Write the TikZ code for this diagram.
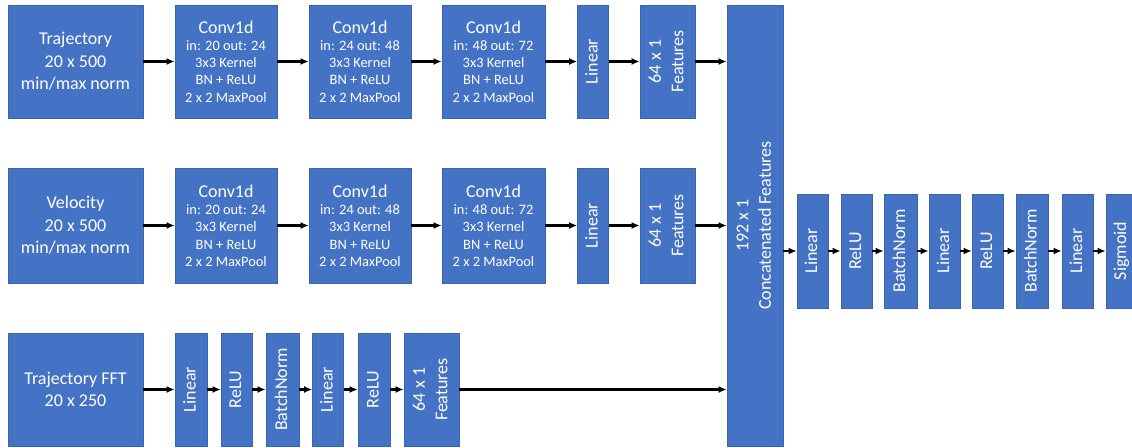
\documentclass[tikz,border=0pt]{standalone}
\usepackage{fontspec}
\usepackage{graphicx}
\setmainfont{Carlito}
\usetikzlibrary{arrows.meta}

\newcommand{\bigText}{\fontsize{18}{22.5}\selectfont}
\newcommand{\smallText}{\fontsize{14.4}{17.3}\selectfont}
\newcommand{\vText}[1]{\rotatebox{90}{\bigText\begin{tabular}{@{}c@{}}#1\end{tabular}}}

\begin{document}
\begin{tikzpicture}[x=1pt, y=-1pt,
    box/.style={draw=borderColour, fill=fillColour, line width=0.7pt, inner sep=0pt,
        text=white, align=center, minimum height=113pt},
    inbox/.style={box, minimum width=135pt, font=\bigText},
    convbox/.style={box, minimum width=102pt, font=\smallText},
    thinbox/.style={box, minimum width=31pt},
    featbox/.style={box, minimum width=55pt},
    arrow/.style={-{Latex[length=8pt,width=7pt]}, line width=2.2pt}]
    \def\rowA{61.5}
    \def\rowB{225.5}
    \def\rowC{389.5}
    \def\rowD{251}

    \definecolor{borderColour}{HTML}{3A64AE}
    \definecolor{fillColour}{HTML}{4472C4}

    \useasboundingbox (0,0) rectangle (1132,447);

    % Trajectory branch
    \node[inbox] (trajA) at (75.5,\rowA) {Trajectory\\20 x 500\\min/max norm};
    \node[convbox] (convAa) at (226,\rowA) {{\bigText Conv1d}\\in: 20 out: 24\\3x3 Kernel\\BN + ReLU\\2 x 2 MaxPool};
    \node[convbox] (convAb) at (360,\rowA) {{\bigText Conv1d}\\in: 24 out: 48\\3x3 Kernel\\BN + ReLU\\2 x 2 MaxPool};
    \node[convbox, minimum width=103pt] (convAc) at (493.5,\rowA) {{\bigText Conv1d}\\in: 48 out: 72\\3x3 Kernel\\BN + ReLU\\2 x 2 MaxPool};
    \node[thinbox] (linA) at (593,\rowA) {\vText{Linear}};
    \node[featbox] (featA) at (667.5,\rowA) {\vText{64 x 1\\Features}};

    % Velocity branch
    \node[inbox, minimum height=115pt] (trajB) at (75.5,\rowB) {Velocity\\20 x 500\\min/max norm};
    \node[convbox, minimum height=115pt] (convBa) at (226,\rowB) {{\bigText Conv1d}\\in: 20 out: 24\\3x3 Kernel\\BN + ReLU\\2 x 2 MaxPool};
    \node[convbox, minimum height=115pt] (convBb) at (360,\rowB) {{\bigText Conv1d}\\in: 24 out: 48\\3x3 Kernel\\BN + ReLU\\2 x 2 MaxPool};
    \node[convbox, minimum width=103pt, minimum height=115pt] (convBc) at (493.5,\rowB) {{\bigText Conv1d}\\in: 48 out: 72\\3x3 Kernel\\BN + ReLU\\2 x 2 MaxPool};
    \node[thinbox, minimum height=115pt] (linB) at (593,\rowB) {\vText{Linear}};
    \node[featbox, minimum height=115pt] (featB) at (667.5,\rowB) {\vText{64 x 1\\Features}};

    % FFT branch
    \node[inbox] (trajC) at (75.5,\rowC) {Trajectory FFT\\20 x 250};
    \node[thinbox, minimum width=32pt] (linCa) at (191,\rowC) {\vText{Linear}};
    \node[thinbox] (reluCa) at (236.5,\rowC) {\vText{ReLU}};
    \node[thinbox, minimum width=33pt] (bnC) at (282.5,\rowC) {\vText{BatchNorm}};
    \node[thinbox] (linCb) at (328,\rowC) {\vText{Linear}};
    \node[thinbox, minimum width=32pt] (reluCb) at (374,\rowC) {\vText{ReLU}};
    \node[featbox] (featC) at (431.5,\rowC) {\vText{64 x 1\\Features}};

    % Concatenation
    \node[box, minimum width=56pt, minimum height=441pt] (concat) at (755,225.5) {\vText{192 x 1\\Concatenated Features}};

    % Classifier head
    \node[thinbox, minimum height=114pt] (fcA) at (812.5,\rowD) {\vText{Linear}};
    \node[thinbox, minimum height=114pt] (reluDa) at (856.5,\rowD) {\vText{ReLU}};
    \node[thinbox, minimum width=33pt, minimum height=114pt] (bnDa) at (900.5,\rowD) {\vText{BatchNorm}};
    \node[thinbox, minimum height=114pt] (fcB) at (944.5,\rowD) {\vText{Linear}};
    \node[thinbox, minimum height=114pt] (reluDb) at (987.5,\rowD) {\vText{ReLU}};
    \node[thinbox, minimum width=32pt, minimum height=114pt] (bnDb) at (1032,\rowD) {\vText{BatchNorm}};
    \node[thinbox, minimum height=114pt] (fcC) at (1077.5,\rowD) {\vText{Linear}};
    \node[thinbox, minimum height=114pt] (sig) at (1121.5,\rowD) {\vText{Sigmoid}};

    % Draw arrows
    \foreach \a/\b in {trajA/convAa, convAa/convAb, convAb/convAc, convAc/linA, linA/featA,
                       trajB/convBa, convBa/convBb, convBb/convBc, convBc/linB, linB/featB,
                       trajC/linCa, linCa/reluCa, reluCa/bnC, bnC/linCb, linCb/reluCb, reluCb/featC,
                       fcA/reluDa, reluDa/bnDa, bnDa/fcB, fcB/reluDb, reluDb/bnDb, bnDb/fcC, fcC/sig}
        \draw[arrow] (\a) -- (\b);
    \foreach \f in {featA, featB, featC}
        \draw[arrow] (\f) -- (\f -| concat.west);
    \draw[arrow] (concat.east |- fcA) -- (fcA);

\end{tikzpicture}
\end{document}
